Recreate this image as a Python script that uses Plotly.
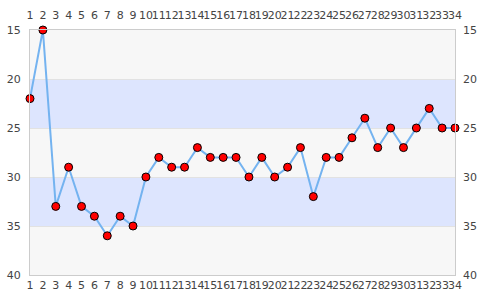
import plotly.graph_objects as go

x_vals = list(range(1, 35))
y_vals = [22, 15, 33, 29, 33, 34, 36, 34, 35, 30, 28, 29, 29, 27, 28, 28, 28, 30, 28, 30,
          29, 27, 32, 28, 28, 26, 24, 27, 25, 27, 25, 23, 25, 25]
y_ticks = [15, 20, 25, 30, 35, 40]
bands = [(20, 25), (30, 35)]

fig = go.Figure()
fig.add_trace(go.Scatter(
    x=x_vals, y=y_vals, mode="lines+markers",
    line=dict(color="#74b3f0", width=2),
    marker=dict(color="#ff0000", size=8, line=dict(color="#000000", width=1)),
    cliponaxis=False, showlegend=False,
))
# invisible trace for the secondary axes
fig.add_trace(go.Scatter(x=[x_vals[0], x_vals[-1]], y=[y_ticks[0], y_ticks[-1]],
                         xaxis="x2", yaxis="y2", mode="markers",
                         marker=dict(opacity=0), showlegend=False, hoverinfo="skip"))

for lo, hi in bands:
    fig.add_shape(type="rect", xref="x domain", yref="y", x0=0, x1=1, y0=lo, y1=hi,
                  fillcolor="#dde5fe", line=dict(width=0), layer="below")

font = dict(family="DejaVu Sans", size=11, color="#444444")
xcommon = dict(range=[1, 34], tickmode="array", tickvals=x_vals,
               ticktext=[str(v) for v in x_vals], showgrid=False, zeroline=False,
               tickfont=font, ticks="", tickangle=0, automargin=False, fixedrange=True)
ycommon = dict(range=[40, 15], tickmode="array", tickvals=y_ticks,
               showgrid=True, gridcolor="#e2e2e2", gridwidth=1, zeroline=False,
               tickfont=font, ticks="", automargin=False)

fig.update_layout(
    width=485, height=300,
    margin=dict(l=30, r=30, t=30, b=25),
    paper_bgcolor="#ffffff", plot_bgcolor="#f7f7f7",
    xaxis=dict(**xcommon, showline=True, linecolor="#cccccc", linewidth=1, mirror=True,
               ticklabelstandoff=0),
    xaxis2=dict(**xcommon, overlaying="x", side="top", showline=False,
                ticklabelstandoff=8),
    yaxis=dict(**ycommon, showline=True, linecolor="#cccccc", linewidth=1, mirror=True,
               ticklabelstandoff=6),
    yaxis2=dict(**ycommon, overlaying="y", side="right", showline=False,
                ticklabelstandoff=7),
)
fig.write_html("out.html")
